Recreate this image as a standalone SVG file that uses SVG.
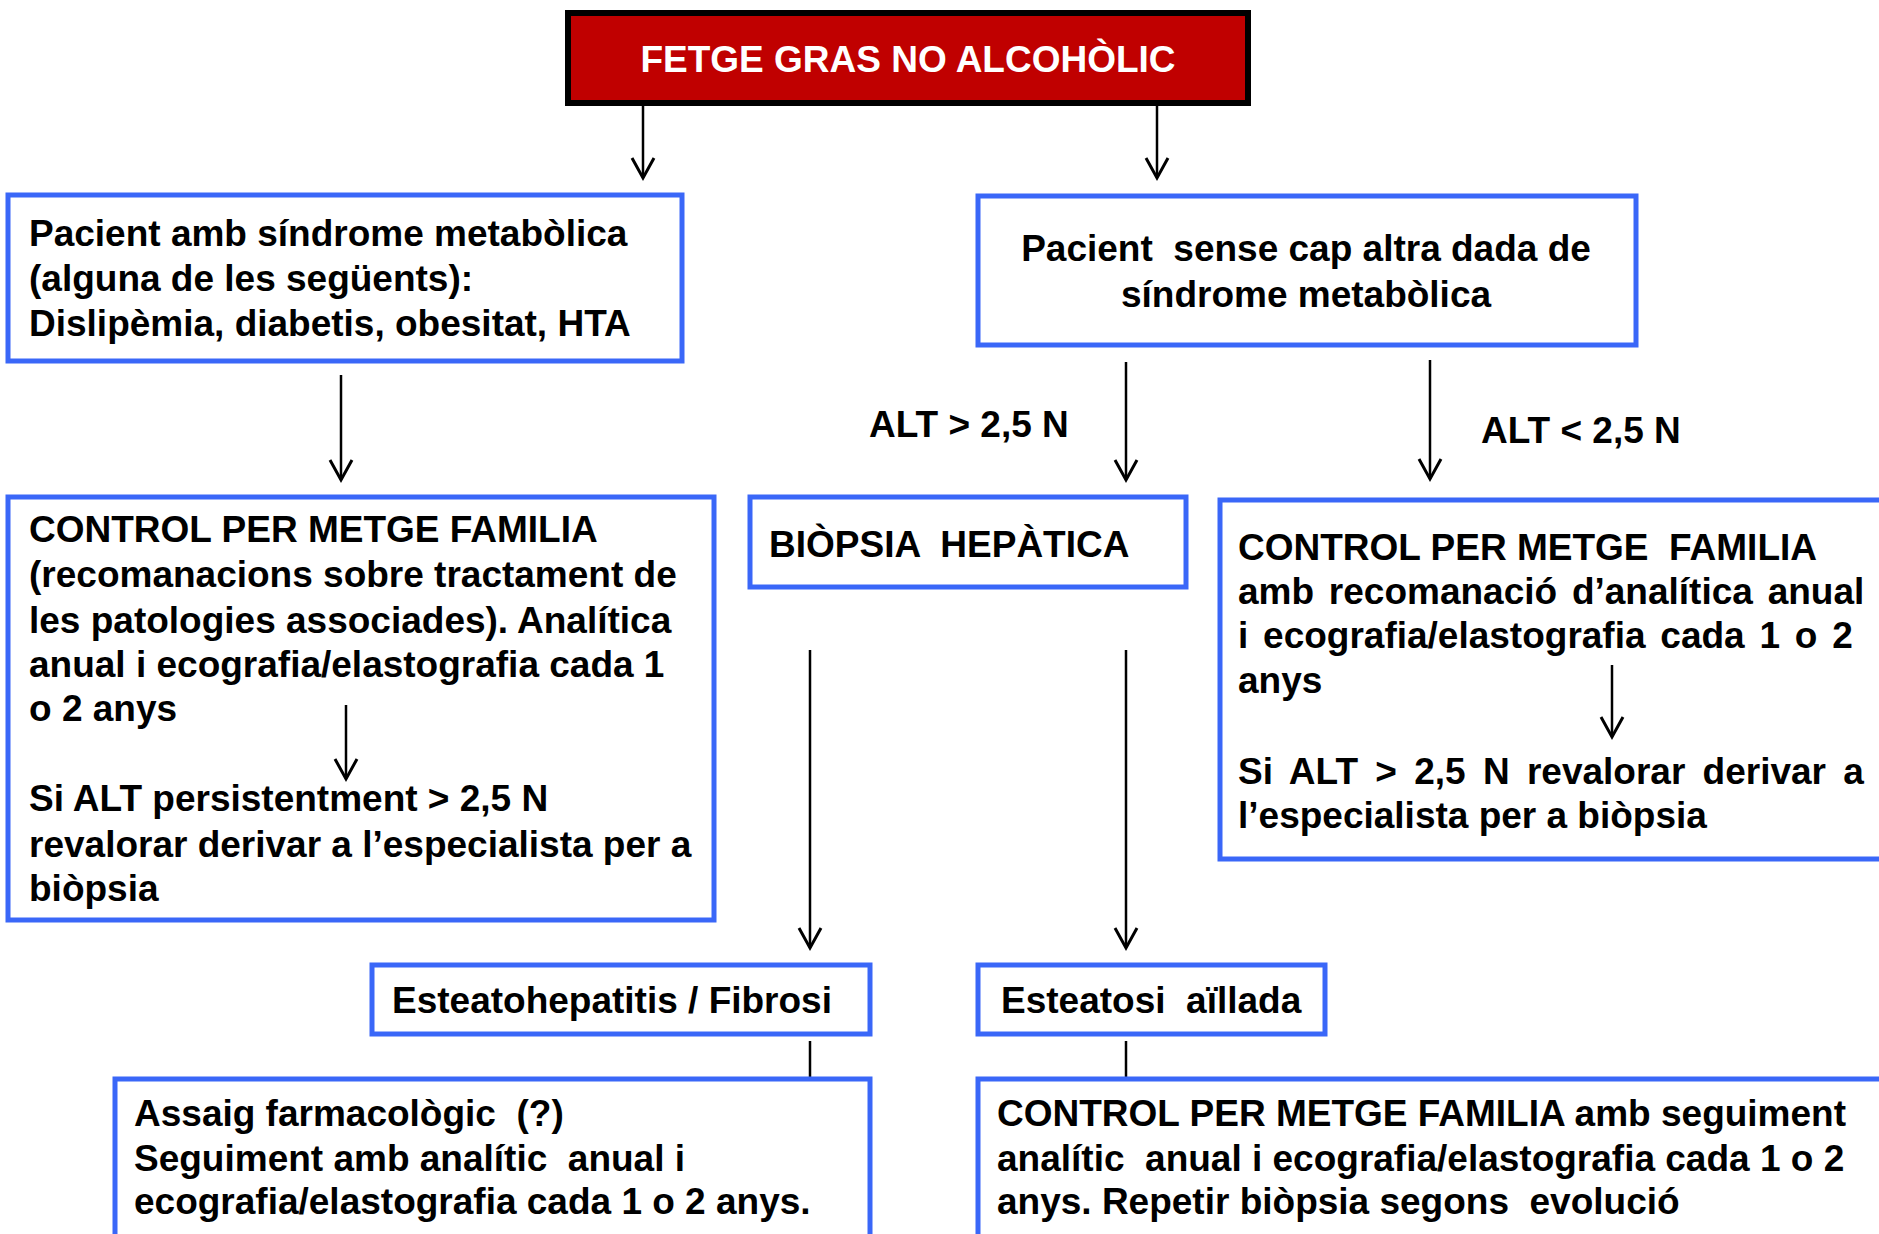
<svg xmlns="http://www.w3.org/2000/svg" width="1879" height="1234" viewBox="0 0 1879 1234" xml:space="preserve">
<style>
text { font-family: "Liberation Sans", Arial, sans-serif; font-weight: bold; font-size: 37px; fill: #000; white-space: pre; }
.box { fill: #fff; stroke: #3A67F8; stroke-width: 5; }
.title { fill: #C00000; stroke: #000; stroke-width: 6; }
.tt { fill: #fff; text-anchor: middle; }
.c { text-anchor: middle; }
.conn { stroke: #000; stroke-width: 2.5; fill: none; }
.arr { marker-end: url(#ah); }
</style>
<defs>
<marker id="ah" markerUnits="userSpaceOnUse" orient="auto" refX="0" refY="0" viewBox="-24 -14 28 28" markerWidth="28" markerHeight="28">
<path d="M-20,-11 L0,0 L-20,11" fill="none" stroke="#000" stroke-width="3"/>
</marker>
</defs>
<rect width="1879" height="1234" fill="#fff"/>

<g id="connectors">
<path class="conn arr" d="M643,106 V178"/>
<path class="conn arr" d="M1157,106 V178"/>
<path class="conn arr" d="M341,375 V480"/>
<path class="conn arr" d="M1126,362 V480"/>
<path class="conn arr" d="M1430,360 V479"/>
<path class="conn arr" d="M810,650 V948"/>
<path class="conn arr" d="M1126,650 V948"/>
<path class="conn" d="M810,1041 V1078"/>
<path class="conn" d="M1126,1041 V1078"/>
</g>

<g id="title">
<rect class="title" x="568" y="13" width="680" height="90"/>
<text class="tt" x="908" y="72">FETGE GRAS NO ALCOHÒLIC</text>
</g>

<g id="pacient-sindrome">
<rect class="box" x="8" y="195" width="674" height="166"/>
<text x="29" y="246">Pacient amb síndrome metabòlica</text>
<text x="29" y="291">(alguna de les següents):</text>
<text x="29" y="336">Dislipèmia, diabetis, obesitat, HTA</text>
</g>

<g id="pacient-sense">
<rect class="box" x="978" y="196" width="658" height="149"/>
<text class="c" x="1306" y="261">Pacient  sense cap altra dada de</text>
<text class="c" x="1306" y="307">síndrome metabòlica</text>
</g>

<g id="labels">
<text x="869" y="437">ALT &gt; 2,5 N</text>
<text x="1481" y="443">ALT &lt; 2,5 N</text>
</g>

<g id="control-esquerra">
<rect class="box" x="8" y="497" width="706" height="423"/>
<text x="29" y="542">CONTROL PER METGE FAMILIA</text>
<text x="29" y="587">(recomanacions sobre tractament de</text>
<text x="29" y="633">les patologies associades). Analítica</text>
<text x="29" y="677">anual i ecografia/elastografia cada 1</text>
<text x="29" y="721">o 2 anys</text>
<path class="conn arr" d="M346,705 V779"/>
<text x="29" y="811">Si ALT persistentment &gt; 2,5 N</text>
<text x="29" y="857">revalorar derivar a l’especialista per a</text>
<text x="29" y="901">biòpsia</text>
</g>

<g id="biopsia">
<rect class="box" x="750" y="497" width="436" height="90"/>
<text x="769" y="557">BIÒPSIA  HEPÀTICA</text>
</g>

<g id="control-dreta">
<rect class="box" x="1220" y="500" width="690" height="359"/>
<text x="1238" y="560">CONTROL PER METGE  FAMILIA</text>
<text x="1238" y="604" word-spacing="4.5">amb recomanació d’analítica anual</text>
<text x="1238" y="648" word-spacing="4.5">i ecografia/elastografia cada 1 o 2</text>
<text x="1238" y="693">anys</text>
<path class="conn arr" d="M1612,665 V737"/>
<text x="1238" y="784" word-spacing="7">Si ALT &gt; 2,5 N revalorar derivar a</text>
<text x="1238" y="828">l’especialista per a biòpsia</text>
</g>

<g id="esteatohepatitis">
<rect class="box" x="372" y="965" width="498" height="69"/>
<text x="392" y="1013">Esteatohepatitis / Fibrosi</text>
</g>

<g id="esteatosi">
<rect class="box" x="978" y="965" width="347" height="69"/>
<text x="1001" y="1013">Esteatosi  aïllada</text>
</g>

<g id="assaig">
<rect class="box" x="115" y="1079" width="755" height="175"/>
<text x="134" y="1126">Assaig farmacològic  (?)</text>
<text x="134" y="1171">Seguiment amb analític  anual i</text>
<text x="134" y="1214">ecografia/elastografia cada 1 o 2 anys.</text>
</g>

<g id="control-esteatosi">
<rect class="box" x="978" y="1079" width="930" height="175"/>
<text x="997" y="1126">CONTROL PER METGE FAMILIA amb seguiment</text>
<text x="997" y="1171">analític  anual i ecografia/elastografia cada 1 o 2</text>
<text x="997" y="1214">anys. Repetir biòpsia segons  evolució</text>
</g>
</svg>
